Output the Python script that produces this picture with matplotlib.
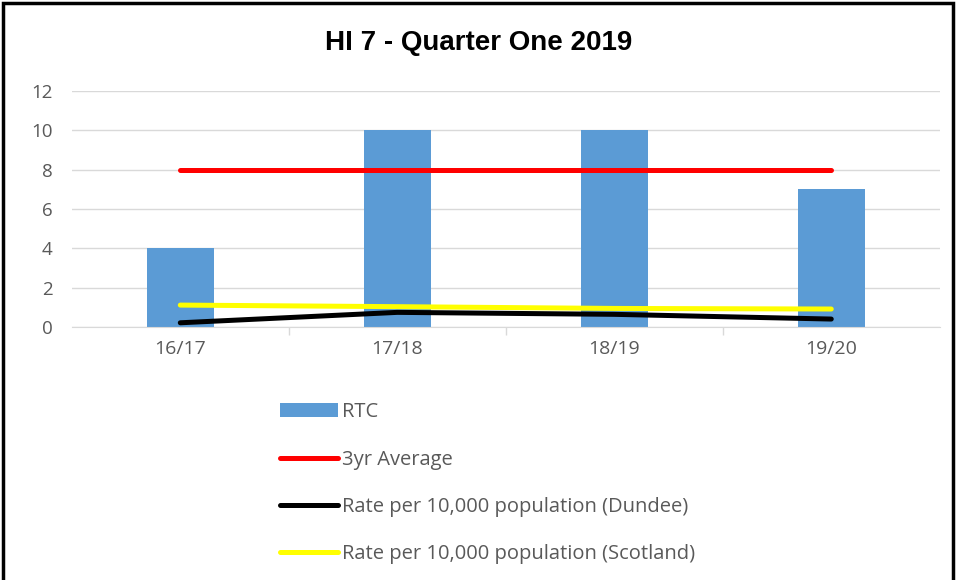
import matplotlib.pyplot as plt
from matplotlib.patches import Rectangle
import numpy as np

years = ['16/17', '17/18', '18/19', '19/20']
rtc = [4, 10, 10, 7]
avg_3yr = [8, 8, 8, 8]
rate_dundee = [0.22, 0.75, 0.65, 0.41]
rate_scotland = [1.12, 1.04, 0.95, 0.92]

grey = '#595959'
plt.rcParams['font.family'] = ['Open Sans', 'DejaVu Sans']

fig = plt.figure(figsize=(9.57, 5.8), dpi=100)
ax = fig.add_axes([0.075, 0.436, 0.907, 0.407])

x = np.arange(len(years))
bars = ax.bar(x, rtc, width=0.31, color='#5b9bd5', label='RTC', zorder=2)
l1, = ax.plot(x, avg_3yr, color='#ff0000', lw=3.6, solid_capstyle='round', label='3yr Average', zorder=3)
l2, = ax.plot(x, rate_dundee, color='black', lw=3.6, solid_capstyle='round',
              label='Rate per 10,000 population (Dundee)', zorder=3)
l3, = ax.plot(x, rate_scotland, color='#ffff00', lw=3.6, solid_capstyle='round',
              label='Rate per 10,000 population (Scotland)', zorder=3)

ax.set_xlim(-0.5, 3.5)
ax.set_ylim(0, 12)
ax.set_yticks(range(0, 13, 2))
ax.set_xticks(x)
ax.set_xticklabels(years)
ax.set_xticks([0.5, 1.5, 2.5], minor=True)
ax.tick_params(axis='x', which='major', length=0, pad=9, labelsize=14, labelcolor=grey)
ax.tick_params(axis='x', which='minor', length=6, color='#d9d9d9', width=1)
ax.tick_params(axis='y', length=0, pad=14, labelsize=13.5, labelcolor=grey)
ax.yaxis.grid(True, color='#d9d9d9', lw=1)
ax.set_axisbelow(True)
for s in ['top', 'right', 'left']:
    ax.spines[s].set_visible(False)
ax.spines['bottom'].set_color('#d9d9d9')

fig.text(0.5, 0.925, 'HI 7 - Quarter One 2019', ha='center', va='center',
         fontsize=20, fontweight='bold', color='black',
         family=['Liberation Sans Narrow', 'Liberation Sans', 'DejaVu Sans'])

fig.legend([bars, l1, l2, l3], [bars.get_label(), l1.get_label(), l2.get_label(), l3.get_label()],
           loc='upper left', bbox_to_anchor=(0.284, 0.32),
           frameon=False, fontsize=14.5, labelcolor=grey, handlelength=2.9,
           handletextpad=0.2, labelspacing=1.35, borderaxespad=0)

fig.patches.append(Rectangle((0.003, -0.05), 0.993, 1.045, transform=fig.transFigure,
                             fill=False, edgecolor='black', lw=2.5))

fig.savefig('out.png', dpi=100)
